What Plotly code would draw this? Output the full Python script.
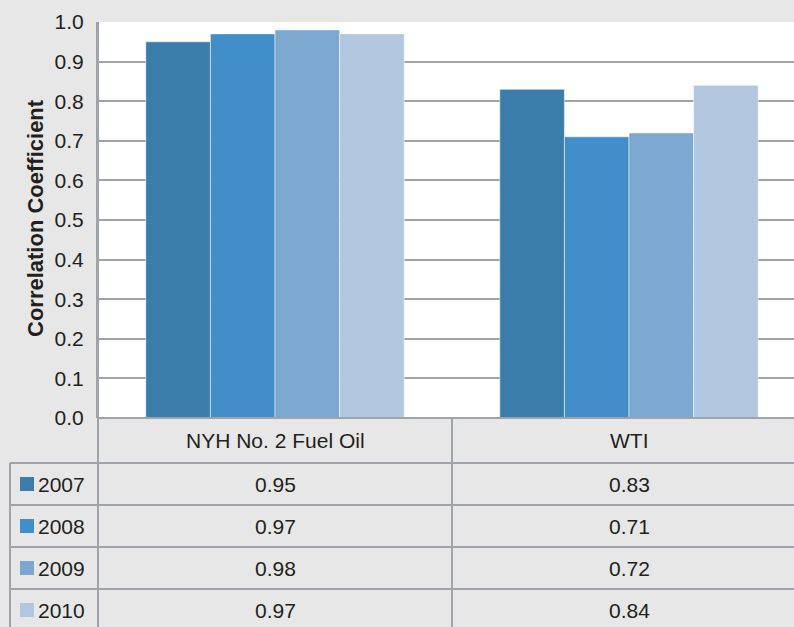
import plotly.graph_objects as go

# Correlation of spot prices by market and year
categories = ["NYH No. 2 Fuel Oil", "WTI"]
years = ["2007", "2008", "2009", "2010"]
values = {
    "2007": [0.95, 0.83],
    "2008": [0.97, 0.71],
    "2009": [0.98, 0.72],
    "2010": [0.97, 0.84],
}
colors = ["#3b7daa", "#418ec8", "#7ca8cf", "#b1c6df"]
y_ticks = [i / 10 for i in range(11)]

W, H = 794, 627
BG = "#e6e7e6"
LINE = "#a0a4a8"
TXT = "#231f20"
FONT = "Liberation Sans, Arial, sans-serif"
FS = 21

# pixel layout helpers
def px(x):
    return x / W

def py(y):
    return 1 - y / H

plot_left, plot_right, plot_top, plot_bottom = 98, 794, 22, 418
cat_px = 354  # width of one category column
x_hi = -0.5 + (plot_right - plot_left) / cat_px

header_bottom = 463
row_h = 42

fig = go.Figure()
for yr, c in zip(years, colors):
    fig.add_trace(go.Bar(
        x=[0, 1], y=values[yr], name=yr,
        marker=dict(color=c, line=dict(color="rgba(255,255,255,0.5)", width=1)),
        showlegend=False, hoverinfo="skip",
    ))

shapes = []
annotations = []

def hline(y, x0, x1):
    shapes.append(dict(type="line", xref="paper", yref="paper",
                       x0=px(x0), x1=px(x1), y0=py(y), y1=py(y),
                       line=dict(color=LINE, width=2)))

def vline(x, y0, y1, xref="paper"):
    xv = px(x) if xref == "paper" else x
    shapes.append(dict(type="line", xref=xref, yref="paper",
                       x0=xv, x1=xv, y0=py(y0), y1=py(y1),
                       line=dict(color=LINE, width=2)))

# table grid
hline(plot_bottom, plot_left, W)
hline(header_bottom, 10, W)
for i in range(1, 4):
    hline(header_bottom + i * row_h, 10, W)
vline(plot_left, plot_top, H)
vline(0.5, plot_bottom, H, xref="x")
vline(10, header_bottom, H)

# header row: category names
for i, cat in enumerate(categories):
    annotations.append(dict(x=i, xref="x", y=py((plot_bottom + header_bottom) / 2), yref="paper",
                            text=cat, showarrow=False, xanchor="center", yanchor="middle",
                            font=dict(size=FS, color=TXT, family=FONT)))

# data rows with legend keys
for r, (yr, c) in enumerate(zip(years, colors)):
    yc = header_bottom + r * row_h + row_h / 2
    shapes.append(dict(type="rect", xref="paper", yref="paper",
                       x0=px(20), x1=px(34), y0=py(yc - 7), y1=py(yc + 7),
                       fillcolor=c, line=dict(width=0)))
    annotations.append(dict(x=px(36), xref="paper", y=py(yc), yref="paper",
                            text=yr, showarrow=False, xanchor="left", yanchor="middle",
                            font=dict(size=FS, color=TXT, family=FONT)))
    for i in range(len(categories)):
        annotations.append(dict(x=i, xref="x", y=py(yc), yref="paper",
                                text=f"{values[yr][i]:.2f}", showarrow=False,
                                xanchor="center", yanchor="middle",
                                font=dict(size=FS, color=TXT, family=FONT)))

# axis title
annotations.append(dict(x=px(35), xref="paper", y=py(218), yref="paper",
                        text="<b>Correlation Coefficient</b>", textangle=-90, showarrow=False,
                        xanchor="center", yanchor="middle",
                        font=dict(size=22, color=TXT, family=FONT)))

fig.update_layout(
    width=W, height=H,
    margin=dict(l=0, r=0, t=0, b=0, autoexpand=False),
    paper_bgcolor=BG, plot_bgcolor="white",
    barmode="group", bargap=0.27, bargroupgap=0,
    xaxis=dict(domain=[px(plot_left), 1], range=[-0.5, x_hi], showticklabels=False,
               automargin=False,
               showgrid=False, zeroline=False, showline=False, fixedrange=True),
    yaxis=dict(domain=[py(plot_bottom), py(plot_top)], range=[0, 1],
               automargin=False,
               tickvals=y_ticks, ticktext=[f"{v:.1f}" for v in y_ticks],
               showgrid=True, gridcolor=LINE, gridwidth=2, zeroline=False,
               showline=True, linecolor=LINE, linewidth=2, mirror=False,
               ticks="", ticklabelstandoff=8,
               tickfont=dict(size=FS, color=TXT, family=FONT)),
    shapes=shapes, annotations=annotations,
    font=dict(family=FONT, color=TXT),
)

fig.write_html("out.html")
